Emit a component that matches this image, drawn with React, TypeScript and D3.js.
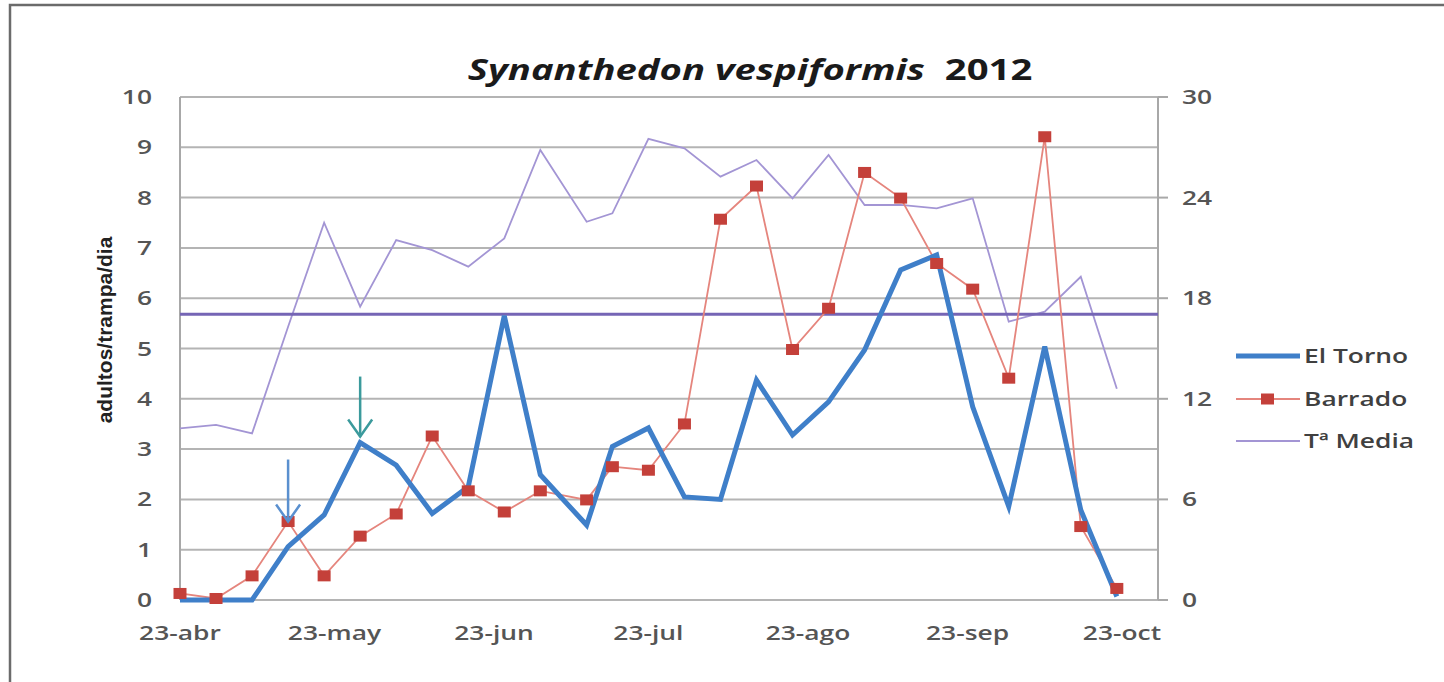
import * as d3 from "d3";
import { useEffect, useRef } from "react";

// sampling dates (2012)
const fechas = [
  "2012-04-23", "2012-04-30", "2012-05-07", "2012-05-14", "2012-05-21", "2012-05-28",
  "2012-06-04", "2012-06-11", "2012-06-18", "2012-06-25", "2012-07-02", "2012-07-11",
  "2012-07-16", "2012-07-23", "2012-07-30", "2012-08-06", "2012-08-13", "2012-08-20",
  "2012-08-27", "2012-09-03", "2012-09-10", "2012-09-17", "2012-09-24", "2012-10-01",
  "2012-10-08", "2012-10-15", "2012-10-22",
];

const elTorno = [
  0, 0, 0, 1.06, 1.69, 3.13, 2.68, 1.72, 2.25, 5.65, 2.49, 1.49, 3.05, 3.42,
  2.05, 2.0, 4.37, 3.28, 3.94, 4.97, 6.56, 6.86, 3.84, 1.86, 5.04, 1.79, 0.07,
];

const barrado = [
  0.13, 0.03, 0.48, 1.56, 0.48, 1.27, 1.71, 3.26, 2.17, 1.75, 2.17, 1.99, 2.65, 2.58,
  3.5, 7.57, 8.23, 4.98, 5.8, 8.5, 7.99, 6.69, 6.18, 4.41, 9.21, 1.46, 0.23,
];

// temperatura media (eje derecho)
const tMedia = [
  10.24, 10.44, 9.94, 16.3, 22.5, 17.5, 21.47, 20.87, 19.88, 21.57, 26.84, 22.56, 23.06, 27.5,
  26.94, 25.25, 26.24, 23.96, 26.54, 23.56, 23.56, 23.36, 23.96, 16.6, 17.2, 19.28, 12.6,
];

const mediaAnual = 17.05;

const leftTicks = [0, 1, 2, 3, 4, 5, 6, 7, 8, 9, 10];
const rightTicks = [0, 6, 12, 18, 24, 30];
const xTicks = ["2012-04-23", "2012-05-23", "2012-06-23", "2012-07-23", "2012-08-23", "2012-09-23", "2012-10-23"];
const meses = ["abr", "may", "jun", "jul", "ago", "sep", "oct"];

const font = "'Open Sans', 'DejaVu Sans', sans-serif";
const stretch = 1.32; // the picture's text is wide

export default function App() {
  const ref = useRef<SVGSVGElement>(null);

  useEffect(() => {
    const width = 1444;
    const height = 682;
    const svg = d3.select(ref.current);
    svg.selectAll("*").remove();
    svg.attr("width", width).attr("height", height);

    const parse = d3.utcParse("%Y-%m-%d");
    const dates = fechas.map(d => parse(d)!);

    const x = d3.scaleUtc()
      .domain([parse("2012-04-23")!, parse("2012-10-30")!])
      .range([180, 1158]);
    const y = d3.scaleLinear().domain([0, 10]).range([600, 97]);
    const y2 = d3.scaleLinear().domain([0, 30]).range([600, 97]);

    const label = (g: any, tx: number, ty: number, size: number) =>
      g.append("text")
        .attr("transform", `translate(${tx},${ty}) scale(${stretch},1)`)
        .attr("font-family", font).attr("font-size", size)
        .attr("font-weight", 600);

    // outer frame
    svg.append("rect")
      .attr("x", 10).attr("y", 5)
      .attr("width", 1460).attr("height", 720)
      .attr("fill", "white")
      .attr("stroke", "#6b6b6b").attr("stroke-width", 2.5);

    // gridlines
    svg.append("g")
      .selectAll("line")
      .data(leftTicks)
      .enter()
      .append("line")
      .attr("x1", 180).attr("x2", 1158)
      .attr("y1", d => y(d)).attr("y2", d => y(d))
      .attr("stroke", "#b4b4b4").attr("stroke-width", 2);

    // axes lines
    svg.append("line")
      .attr("x1", 180).attr("x2", 180).attr("y1", 97).attr("y2", 600)
      .attr("stroke", "#a8a8a8").attr("stroke-width", 2);
    svg.append("line")
      .attr("x1", 1158).attr("x2", 1158).attr("y1", 97).attr("y2", 600)
      .attr("stroke", "#a8a8a8").attr("stroke-width", 2);

    // right ticks
    svg.append("g")
      .selectAll("line")
      .data(rightTicks)
      .enter()
      .append("line")
      .attr("x1", 1158).attr("x2", 1168)
      .attr("y1", d => y2(d)).attr("y2", d => y2(d))
      .attr("stroke", "#a8a8a8").attr("stroke-width", 2);

    // left labels
    const gl = svg.append("g");
    leftTicks.forEach(d => {
      label(gl, 152, y(d) + 7, 20).attr("text-anchor", "end").attr("fill", "#555").text(d);
    });

    // right labels
    const gr = svg.append("g");
    rightTicks.forEach(d => {
      label(gr, 1182, y2(d) + 7, 20).attr("fill", "#555").text(d);
    });

    // x labels
    const gx = svg.append("g");
    xTicks.forEach((d, i) => {
      label(gx, x(parse(d)!), 640, 20).attr("text-anchor", "middle").attr("fill", "#555").text("23-" + meses[i]);
    });

    // y title
    svg.append("text")
      .attr("transform", "translate(112,330) rotate(-90)")
      .attr("text-anchor", "middle")
      .attr("font-family", "'Liberation Sans Narrow', 'Liberation Sans', sans-serif")
      .attr("font-weight", "bold").attr("font-size", 21)
      .attr("fill", "#222")
      .text("adultos/trampa/dia");

    // title
    const title = label(svg, 750, 80, 29)
      .attr("text-anchor", "middle")
      .attr("font-weight", "bold").attr("fill", "#1a1a1a");
    title.append("tspan").attr("font-style", "italic").text("Synanthedon vespiformis");
    title.append("tspan").text("\u00a0 2012");

    // temperature
    const lineT = d3.line<number>()
      .x((_, i) => x(dates[i]))
      .y(d => y2(d));
    svg.append("path")
      .attr("d", lineT(tMedia))
      .attr("fill", "none")
      .attr("stroke", "#a395d4").attr("stroke-width", 1.8);

    // annual mean line
    svg.append("line")
      .attr("x1", 180).attr("x2", 1158)
      .attr("y1", y2(mediaAnual)).attr("y2", y2(mediaAnual))
      .attr("stroke", "#7565b5").attr("stroke-width", 3);

    // Barrado
    const line = d3.line<number>()
      .x((_, i) => x(dates[i]))
      .y(d => y(d));
    svg.append("path")
      .attr("d", line(barrado))
      .attr("fill", "none")
      .attr("stroke", "#e5857d").attr("stroke-width", 1.8);

    // El Torno
    svg.append("path")
      .attr("d", line(elTorno))
      .attr("fill", "none")
      .attr("stroke", "#3f7fc9").attr("stroke-width", 5)
      .attr("stroke-linejoin", "miter");

    svg.append("g")
      .selectAll("rect")
      .data(barrado)
      .enter()
      .append("rect")
      .attr("x", (_, i) => x(dates[i]) - 6.5)
      .attr("y", d => y(d) - 5.5)
      .attr("width", 13).attr("height", 11)
      .attr("fill", "#c4403a");

    // arrows
    const arrow = (px: number, tip: number, len: number, color: string) => {
      const g = svg.append("g").attr("stroke", color).attr("stroke-width", 2.5).attr("fill", "none");
      g.append("line").attr("x1", px).attr("x2", px).attr("y1", tip - len).attr("y2", tip);
      g.append("path").attr("d", `M${px - 12},${tip - 17}L${px},${tip}L${px + 12},${tip - 17}`);
    };
    arrow(x(dates[3]), y(barrado[3]), 62, "#5a90cf");
    arrow(x(dates[5]), y(elTorno[5]) - 6, 60, "#3b9a9c");

    // legend
    const lg = svg.append("g");
    const rows = [
      { name: "El Torno", color: "#3f7fc9", w: 5, marker: false, yy: 356 },
      { name: "Barrado", color: "#e5857d", w: 1.8, marker: true, yy: 399 },
      { name: "T\u00aa Media", color: "#a395d4", w: 1.8, marker: false, yy: 441 },
    ];
    rows.forEach(r => {
      lg.append("line")
        .attr("x1", 1236).attr("x2", 1300)
        .attr("y1", r.yy).attr("y2", r.yy)
        .attr("stroke", r.color).attr("stroke-width", r.w);
      if (r.marker) {
        lg.append("rect")
          .attr("x", 1261).attr("y", r.yy - 5.5)
          .attr("width", 13).attr("height", 11)
          .attr("fill", "#c4403a");
      }
      label(lg, 1304, r.yy + 7, 20).attr("fill", "#404040").text(r.name);
    });
  }, []);

  return <svg ref={ref} style={{ position: "fixed", left: 0, top: 0 }} />;
}
